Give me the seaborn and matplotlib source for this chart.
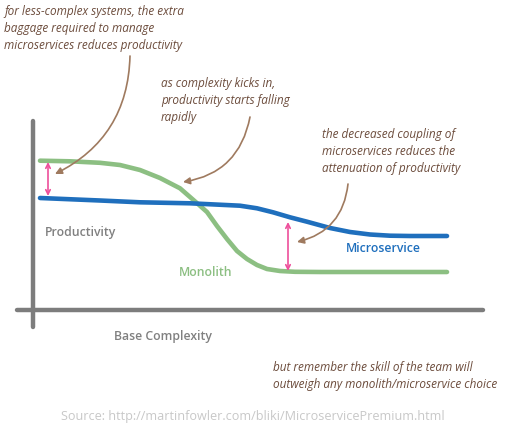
import matplotlib
matplotlib.use("Agg")
import matplotlib.pyplot as plt
import seaborn as sns
import pandas as pd

# curve values (complexity, productivity), origin at axis crossing
mono_x = [7, 37, 67, 87, 107, 127, 147, 157, 165, 174, 184, 194, 204, 214, 224, 234, 247, 262, 287, 414]
mono_y = [149.3, 148.7, 147.2, 145, 140, 132, 121.7, 113, 106, 98, 84, 71, 59, 51, 45, 41, 39, 38.2, 38, 38]
micro_x = [7, 67, 107, 157, 207, 224, 240, 257, 274, 297, 317, 337, 357, 377, 414]
micro_y = [112, 109.5, 107.7, 106.7, 104.3, 101.7, 97.7, 92.7, 88.3, 82, 78, 75.5, 74.3, 74, 74]

# gaps marked with pink arrows: (x, low, high)
gap_x = [15, 255]
gap_lo = [114, 39]
gap_hi = [148, 88]

notes = [
    "for less-complex systems, the extra\nbaggage required to manage\nmicroservices reduces productivity",
    "as complexity kicks in,\nproductivity starts falling\nrapidly",
    "the decreased coupling of\nmicroservices reduces the\nattenuation of productivity",
]
footer = "but remember the skill of the team will\noutweigh any monolith/microservice choice"
source = "Source: http://martinfowler.com/bliki/MicroservicePremium.html"

GREEN = "#8cbf82"
BLUE = "#1f6fbd"
PINK = "#ee4f9b"
AXGRAY = "#7d7d7d"
BROWN = "#6c4c3c"
ARROW = "#9f7a5f"

sns.set_theme(style="white")
plt.rcParams["font.family"] = ["Open Sans", "DejaVu Sans"]

fig = plt.figure(figsize=(5.05, 4.35), dpi=100)
ax = fig.add_axes([0, 0, 1, 1])
ax.set_xlim(-33, 472)
ax.set_ylim(-124, 311)
ax.axis("off")

df = pd.concat([
    pd.DataFrame({"complexity": mono_x, "productivity": mono_y, "style": "Monolith"}),
    pd.DataFrame({"complexity": micro_x, "productivity": micro_y, "style": "Microservice"}),
])
sns.lineplot(data=df, x="complexity", y="productivity", hue="style",
             palette={"Monolith": GREEN, "Microservice": BLUE}, lw=3.3,
             legend=False, ax=ax, sort=False, solid_capstyle="round",
             solid_joinstyle="round")

# axes drawn as thick gray bars
ax.plot([0, 0], [-17, 189], color=AXGRAY, lw=3.2, solid_capstyle="round")
ax.plot([-16, 450], [0, 0], color=AXGRAY, lw=3.2, solid_capstyle="round")

for gx, lo, hi in zip(gap_x, gap_lo, gap_hi):
    ax.annotate("", xy=(gx, hi), xytext=(gx, lo),
                arrowprops=dict(arrowstyle="<->", color=PINK, lw=1.2,
                                shrinkA=0, shrinkB=0, mutation_scale=8))

# labels
ax.text(12, 78, "Productivity", color="#808080", fontsize=8.8, fontweight="semibold", va="center")
ax.text(81, -26, "Base Complexity", color="#808080", fontsize=8.8, fontweight="semibold", va="center")
ax.text(313, 62, "Microservice", color=BLUE, fontsize=8.8, fontweight="semibold", va="center")
ax.text(146, 38, "Monolith", color=GREEN, fontsize=8.8, fontweight="semibold", va="center")

# annotations with curved arrows
note_pos = [(-29, 306), (128, 234), (289, 183)]
arrow_from = [(97, 254), (217, 193), (315, 126)]
arrow_to = [(22, 136), (150, 128), (264, 68)]
rads = [-0.3, -0.35, -0.35]
for txt, (tx, ty), a0, a1, r in zip(notes, note_pos, arrow_from, arrow_to, rads):
    ax.text(tx, ty, txt, color=BROWN, fontsize=8.45, style="italic",
            va="top", ha="left", linespacing=1.42)
    ax.annotate("", xy=a1, xytext=a0,
                arrowprops=dict(arrowstyle="-|>", color=ARROW, lw=1.2,
                                connectionstyle=f"arc3,rad={r}",
                                shrinkA=0, shrinkB=0, mutation_scale=10))

ax.text(240, -50, footer, color=BROWN, fontsize=8.45, style="italic",
        va="top", ha="left", linespacing=1.42)
ax.text(220, -106, source, color="#c8c8c8", fontsize=9.1, ha="center", va="center")

fig.savefig("out.png", dpi=100, facecolor="white")
